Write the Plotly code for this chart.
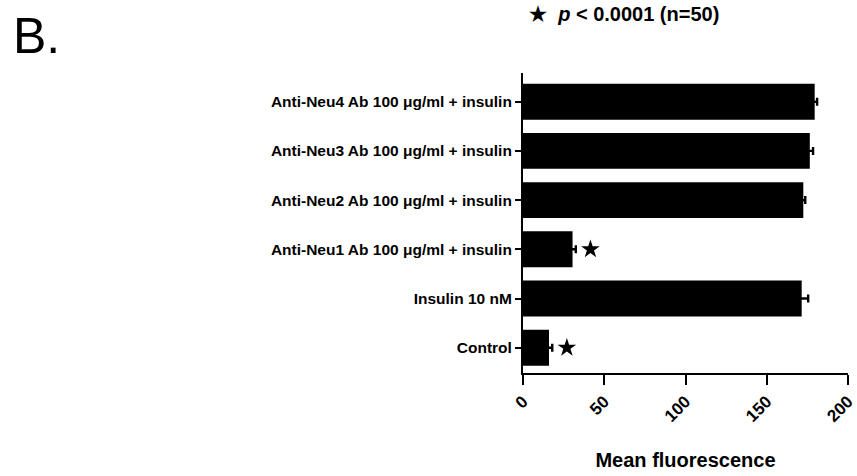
import plotly.graph_objects as go

# Treatment groups, bottom to top
groups = [
    "Control",
    "Insulin 10 nM",
    "Anti-Neu1 Ab 100 \u03bcg/ml + insulin",
    "Anti-Neu2 Ab 100 \u03bcg/ml + insulin",
    "Anti-Neu3 Ab 100 \u03bcg/ml + insulin",
    "Anti-Neu4 Ab 100 \u03bcg/ml + insulin",
]
mean_fluor = [16, 171.5, 30.5, 172.5, 176.5, 179.5]
sem = [2, 4, 2, 1.2, 2, 1.5]
significant = [True, False, True, False, False, False]

x_ticks = [0, 50, 100, 150, 200]

FONT = "Liberation Sans, Arial, sans-serif"

fig = go.Figure()

fig.add_trace(go.Bar(
    y=groups,
    x=mean_fluor,
    orientation="h",
    width=0.73,
    marker=dict(color="black", line=dict(color="black", width=0)),
    error_x=dict(type="data", array=sem, visible=True,
                 color="black", thickness=2.4, width=4),
    showlegend=False,
))

# Significance stars placed just past each error bar
star_offset = 9
sig_y = [g for g, s in zip(groups, significant) if s]
sig_x = [m + e + star_offset for m, e, s in zip(mean_fluor, sem, significant) if s]
fig.add_trace(go.Scatter(
    x=sig_x, y=sig_y, mode="markers",
    marker=dict(symbol="star", size=14, color="black"),
    showlegend=False, cliponaxis=False,
))

fig.update_layout(
    width=857, height=476,
    margin=dict(l=523, r=9, t=73, b=103),
    plot_bgcolor="white", paper_bgcolor="white",
    font=dict(family=FONT, color="black"),
    xaxis=dict(
        range=[0, 200], tickvals=x_ticks, ticktext=[str(v) for v in x_ticks],
        tickangle=-45, showline=True, linecolor="black", linewidth=2,
        ticks="outside", ticklen=10, tickwidth=2, tickcolor="black",
        automargin=False, ticklabeloverflow="allow",
        showgrid=False, zeroline=False,
        tickfont=dict(family=FONT, size=17, color="black", weight="bold"),
        title=dict(text="<b>Mean fluorescence</b>", standoff=28,
                   font=dict(family=FONT, size=20, color="black")),
    ),
    yaxis=dict(
        type="category", categoryorder="array", categoryarray=groups,
        range=[-0.514, 5.583], showline=True, linecolor="black", linewidth=2,
        ticks="outside", ticklen=6, tickwidth=2, tickcolor="black",
        automargin=False,
        showgrid=False, zeroline=False,
        tickfont=dict(family=FONT, size=15.5, color="black", weight="bold"),
    ),
    annotations=[
        dict(text="B.", xref="paper", yref="paper",
             x=(11 - 523) / 325, y=1 + (73 - 6) / 300,
             xanchor="left", yanchor="top", showarrow=False,
             font=dict(family=FONT, size=50, color="black")),
        dict(text="<b>\u2605  <i>p</i> < 0.0001 (n=50)</b>", xref="paper", yref="paper",
             x=(527 - 523) / 325, y=1 + (73 - 14) / 300,
             xanchor="left", yanchor="middle", showarrow=False,
             font=dict(family=FONT, size=20, color="black")),
    ],
)

fig.write_html("out.html")
